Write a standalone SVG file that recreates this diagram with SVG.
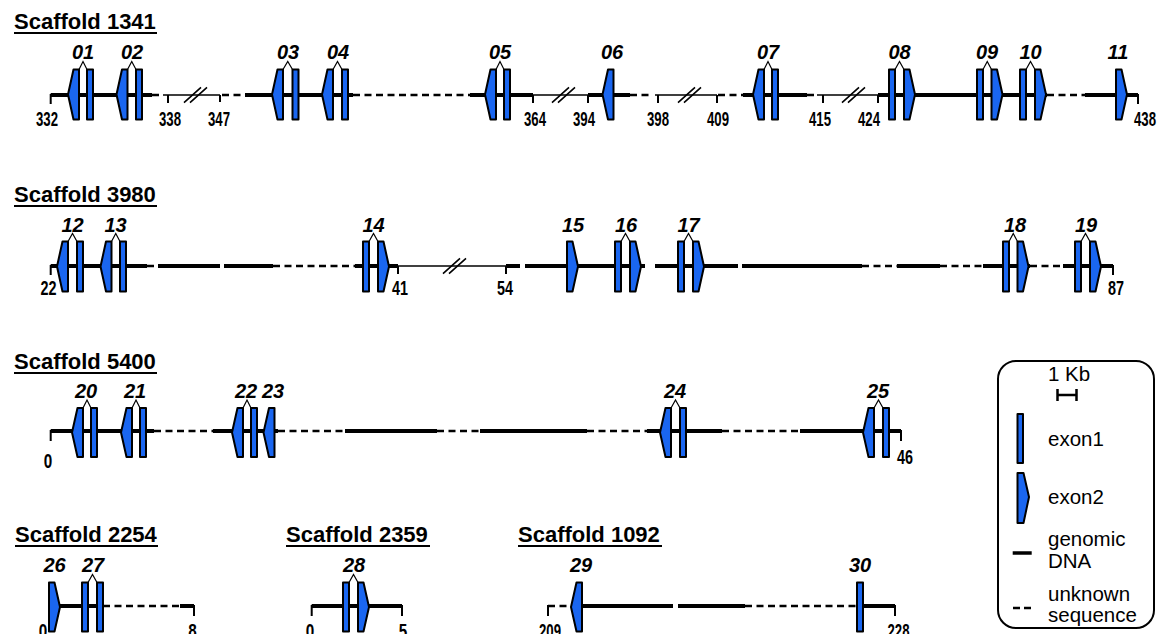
<svg xmlns="http://www.w3.org/2000/svg" width="1167" height="634" viewBox="0 0 1167 634">
<style>
.thick{stroke:#000;stroke-width:3.8;fill:none}
.thin{stroke:#000;stroke-width:1.6;fill:none}
.dash{stroke:#000;stroke-width:2.5;stroke-dasharray:7 4.5;fill:none}
.tick{stroke:#000;stroke-width:2;fill:none}
.brk{stroke:#000;stroke-width:1.6;fill:none}
.ex{fill:#1a66f0;stroke:#000;stroke-width:2;stroke-linejoin:round}
.caret{fill:none;stroke:#000;stroke-width:1.2}
.title{font-family:"Liberation Sans",Arial,sans-serif;font-weight:bold;font-size:22px;fill:#000}
.ul{stroke:#000;stroke-width:2}
.gl{font-family:"Liberation Sans",Arial,sans-serif;font-style:italic;font-weight:bold;font-size:20px;text-anchor:middle;fill:#000}
.num{font-family:"Liberation Sans",Arial,sans-serif;font-weight:bold;font-size:19.5px;text-anchor:middle;fill:#000}
.leg{font-family:"Liberation Sans",Arial,sans-serif;font-size:20.5px;fill:#000}
</style>
<rect width="1167" height="634" fill="#fff"/>

<g id="titles">
<text class="title" x="14" y="29">Scaffold 1341</text><line class="ul" x1="14" y1="33" x2="157" y2="33"/>
<text class="title" x="14" y="202">Scaffold 3980</text><line class="ul" x1="14" y1="206" x2="157" y2="206"/>
<text class="title" x="14" y="369">Scaffold 5400</text><line class="ul" x1="14" y1="373" x2="157" y2="373"/>
<text class="title" x="15" y="542">Scaffold 2254</text><line class="ul" x1="15" y1="546" x2="158" y2="546"/>
<text class="title" x="286" y="542">Scaffold 2359</text><line class="ul" x1="286" y1="546" x2="430" y2="546"/>
<text class="title" x="518" y="542">Scaffold 1092</text><line class="ul" x1="518" y1="546" x2="662" y2="546"/>
</g>

<g id="connectors">
<!-- Row 1 -->
<path class="thick" d="M50.7 95H152M245 95H353M470 95H533M588 95H630M743 95H807M878 95H1047M1085 95H1138"/>
<path class="dash" d="M152 95H160M222 95H245M353 95H470M630 95H652M718 95H743M807 95H815M1047 95H1085"/>
<path class="thin" d="M163 95H220M533 95H588M655 95H717M817 95H878"/>
<path class="brk" d="M184 102.7L201 87.3M190 102.7L207 87.3M552 102.7L569 87.3M558 102.7L575 87.3M678 102.7L695 87.3M684 102.7L701 87.3M842 102.7L859 87.3M848 102.7L865 87.3"/>
<path class="tick" d="M50.7 94V104M168 95V103M220 95V102M533 95V103M588 95V103M658 95V103M717 95V103M823 95V103M878 95V103M1138 94V104"/>
<!-- Row 2 -->
<path class="thick" d="M50.7 266H147M158 266H220M224 266H273M355 266H398M506 266H520M525 266H645M655 266H738M742 266H862M897 266H940M983 266H1030M1063 266H1113"/>
<path class="dash" d="M147 266H158M273 266H355M862 266H897M940 266H983M1030 266H1063"/>
<path class="thin" d="M398 266H506"/>
<path class="brk" d="M443 273.7L460 258.3M449 273.7L466 258.3"/>
<path class="tick" d="M50.7 265V275M398 266V274M506 266V274M1113 265V275"/>
<!-- Row 3 -->
<path class="thick" d="M50.7 431H154M213 431H278M345 431H437M480 431H587M647 431H722M800 431H901"/>
<path class="dash" d="M154 431H213M278 431H345M437 431H480M587 431H647M722 431H800"/>
<path class="tick" d="M50.7 430V441M901 430V441"/>
<!-- Row 4 -->
<path class="thick" d="M60 606H103M180 606H194M311.7 606H402M582 606H673M678 606H745M863 606H895"/>
<path class="dash" d="M103 606H180M548 606H571M745 606H857"/>
<path class="tick" d="M194 605V616M311.7 605V616M402 605V616M548 605V616M895 605V616"/>
</g>

<g id="positions">
<text class="num" x="47" y="126" textLength="22" lengthAdjust="spacingAndGlyphs">332</text>
<text class="num" x="170" y="126" textLength="22" lengthAdjust="spacingAndGlyphs">338</text>
<text class="num" x="219" y="126" textLength="22" lengthAdjust="spacingAndGlyphs">347</text>
<text class="num" x="535" y="126" textLength="22" lengthAdjust="spacingAndGlyphs">364</text>
<text class="num" x="584" y="126" textLength="22" lengthAdjust="spacingAndGlyphs">394</text>
<text class="num" x="658" y="126" textLength="22" lengthAdjust="spacingAndGlyphs">398</text>
<text class="num" x="718" y="126" textLength="22" lengthAdjust="spacingAndGlyphs">409</text>
<text class="num" x="820" y="126" textLength="22" lengthAdjust="spacingAndGlyphs">415</text>
<text class="num" x="869" y="126" textLength="22" lengthAdjust="spacingAndGlyphs">424</text>
<text class="num" x="1145" y="126" textLength="22" lengthAdjust="spacingAndGlyphs">438</text>
<text class="num" x="48.5" y="295" textLength="16" lengthAdjust="spacingAndGlyphs">22</text>
<text class="num" x="400" y="295" textLength="16" lengthAdjust="spacingAndGlyphs">41</text>
<text class="num" x="505" y="295" textLength="16" lengthAdjust="spacingAndGlyphs">54</text>
<text class="num" x="1116" y="295" textLength="16" lengthAdjust="spacingAndGlyphs">87</text>
<text class="num" x="48" y="468" textLength="8.5" lengthAdjust="spacingAndGlyphs">0</text>
<text class="num" x="905" y="464" textLength="16" lengthAdjust="spacingAndGlyphs">46</text>
<text class="num" x="43" y="638" textLength="8.5" lengthAdjust="spacingAndGlyphs">0</text>
<text class="num" x="192.5" y="638" textLength="8.5" lengthAdjust="spacingAndGlyphs">8</text>
<text class="num" x="310" y="638" textLength="8.5" lengthAdjust="spacingAndGlyphs">0</text>
<text class="num" x="403" y="638" textLength="8.5" lengthAdjust="spacingAndGlyphs">5</text>
<text class="num" x="550" y="638" textLength="22" lengthAdjust="spacingAndGlyphs">209</text>
<text class="num" x="898.5" y="638" textLength="22" lengthAdjust="spacingAndGlyphs">228</text>
</g>

<g id="gene01"><polygon class="ex" points="79,69.5 73.5,69.5 68,94.5 73.5,119.5 79,119.5"/><rect class="ex" x="87" y="69.5" width="6" height="50"/><polyline class="caret" points="79,69.5 83,61.5 87,69.5"/><text class="gl" x="83" y="58.5">01</text></g>
<g id="gene02"><polygon class="ex" points="127.5,69.5 122,69.5 116.5,94.5 122,119.5 127.5,119.5"/><rect class="ex" x="136" y="69.5" width="6" height="50"/><polyline class="caret" points="127.5,69.5 131.75,61.5 136,69.5"/><text class="gl" x="132" y="58.5">02</text></g>
<g id="gene03"><polygon class="ex" points="283,69.5 277.5,69.5 272,94.5 277.5,119.5 283,119.5"/><rect class="ex" x="292.5" y="69.5" width="6" height="50"/><polyline class="caret" points="283,69.5 287.75,61.5 292.5,69.5"/><text class="gl" x="288" y="58.5">03</text></g>
<g id="gene04"><polygon class="ex" points="333,69.5 327.5,69.5 322,94.5 327.5,119.5 333,119.5"/><rect class="ex" x="342" y="69.5" width="6" height="50"/><polyline class="caret" points="333,69.5 337.5,61.5 342,69.5"/><text class="gl" x="338" y="58.5">04</text></g>
<g id="gene05"><polygon class="ex" points="496,69.5 490.5,69.5 485,94.5 490.5,119.5 496,119.5"/><rect class="ex" x="504" y="69.5" width="6" height="50"/><polyline class="caret" points="496,69.5 500,61.5 504,69.5"/><text class="gl" x="500" y="58.5">05</text></g>
<g id="gene06"><polygon class="ex" points="613.5,69.5 608,69.5 602.5,94.5 608,119.5 613.5,119.5"/><text class="gl" x="612" y="58.5">06</text></g>
<g id="gene07"><polygon class="ex" points="764,69.5 758.5,69.5 753,94.5 758.5,119.5 764,119.5"/><rect class="ex" x="772" y="69.5" width="6" height="50"/><polyline class="caret" points="764,69.5 768,61.5 772,69.5"/><text class="gl" x="768" y="58.5">07</text></g>
<g id="gene08"><rect class="ex" x="889" y="69.5" width="6" height="50"/><polygon class="ex" points="904,69.5 909.5,69.5 915,94.5 909.5,119.5 904,119.5"/><polyline class="caret" points="895,69.5 899.5,61.5 904,69.5"/><text class="gl" x="899.5" y="58.5">08</text></g>
<g id="gene09"><rect class="ex" x="977" y="69.5" width="6" height="50"/><polygon class="ex" points="991.5,69.5 997,69.5 1002.5,94.5 997,119.5 991.5,119.5"/><polyline class="caret" points="983,69.5 987.25,61.5 991.5,69.5"/><text class="gl" x="987" y="58.5">09</text></g>
<g id="gene10"><rect class="ex" x="1020" y="69.5" width="6" height="50"/><polygon class="ex" points="1035,69.5 1040.5,69.5 1046,94.5 1040.5,119.5 1035,119.5"/><polyline class="caret" points="1026,69.5 1030.5,61.5 1035,69.5"/><text class="gl" x="1030.5" y="58.5">10</text></g>
<g id="gene11"><polygon class="ex" points="1116,69.5 1121.5,69.5 1127,94.5 1121.5,119.5 1116,119.5"/><text class="gl" x="1118" y="58.5">11</text></g>

<g id="gene12"><polygon class="ex" points="68,241.5 62.5,241.5 57,266.5 62.5,291.5 68,291.5"/><rect class="ex" x="77" y="241.5" width="6" height="50"/><polyline class="caret" points="68,241.5 72.5,233.5 77,241.5"/><text class="gl" x="72.5" y="231.5">12</text></g>
<g id="gene13"><polygon class="ex" points="111.5,241.5 106,241.5 100.5,266.5 106,291.5 111.5,291.5"/><rect class="ex" x="120" y="241.5" width="6" height="50"/><polyline class="caret" points="111.5,241.5 115.75,233.5 120,241.5"/><text class="gl" x="115.5" y="231.5">13</text></g>
<g id="gene14"><rect class="ex" x="363" y="241.5" width="6" height="50"/><polygon class="ex" points="378,241.5 383.5,241.5 389,266.5 383.5,291.5 378,291.5"/><polyline class="caret" points="369,241.5 373.5,233.5 378,241.5"/><text class="gl" x="373.5" y="231.5">14</text></g>
<g id="gene15"><polygon class="ex" points="567,241.5 572.5,241.5 578,266.5 572.5,291.5 567,291.5"/><text class="gl" x="573" y="231.5">15</text></g>
<g id="gene16"><rect class="ex" x="615" y="241.5" width="6" height="50"/><polygon class="ex" points="630,241.5 635.5,241.5 641,266.5 635.5,291.5 630,291.5"/><polyline class="caret" points="621,241.5 625.5,233.5 630,241.5"/><text class="gl" x="626" y="231.5">16</text></g>
<g id="gene17"><rect class="ex" x="678" y="241.5" width="6" height="50"/><polygon class="ex" points="693,241.5 698.5,241.5 704,266.5 698.5,291.5 693,291.5"/><polyline class="caret" points="684,241.5 688.5,233.5 693,241.5"/><text class="gl" x="688.5" y="231.5">17</text></g>
<g id="gene18"><rect class="ex" x="1003" y="241.5" width="6" height="50"/><polygon class="ex" points="1017.5,241.5 1023,241.5 1028.5,266.5 1023,291.5 1017.5,291.5"/><polyline class="caret" points="1009,241.5 1013.25,233.5 1017.5,241.5"/><text class="gl" x="1015" y="231.5">18</text></g>
<g id="gene19"><rect class="ex" x="1075" y="241.5" width="6" height="50"/><polygon class="ex" points="1090,241.5 1095.5,241.5 1101,266.5 1095.5,291.5 1090,291.5"/><polyline class="caret" points="1081,241.5 1085.5,233.5 1090,241.5"/><text class="gl" x="1086" y="231.5">19</text></g>

<g id="gene20"><polygon class="ex" points="83,408 77.5,408 72,432.5 77.5,457 83,457"/><rect class="ex" x="91" y="408" width="6" height="49"/><polyline class="caret" points="83,408 87,400 91,408"/><text class="gl" x="86" y="398">20</text></g>
<g id="gene21"><polygon class="ex" points="132,408 126.5,408 121,432.5 126.5,457 132,457"/><rect class="ex" x="140" y="408" width="6" height="49"/><polyline class="caret" points="132,408 136,400 140,408"/><text class="gl" x="135" y="398">21</text></g>
<g id="gene22"><polygon class="ex" points="243,408 237.5,408 232,432.5 237.5,457 243,457"/><rect class="ex" x="251" y="408" width="6" height="49"/><polyline class="caret" points="243,408 247,400 251,408"/><text class="gl" x="246" y="398">22</text></g>
<g id="gene23"><polygon class="ex" points="274.5,408 269,408 263.5,432.5 269,457 274.5,457"/><text class="gl" x="273" y="398">23</text></g>
<g id="gene24"><polygon class="ex" points="671,408 665.5,408 660,432.5 665.5,457 671,457"/><rect class="ex" x="680" y="408" width="6" height="49"/><polyline class="caret" points="671,408 675.5,400 680,408"/><text class="gl" x="675" y="398">24</text></g>
<g id="gene25"><polygon class="ex" points="874,408 868.5,408 863,432.5 868.5,457 874,457"/><rect class="ex" x="883" y="408" width="6" height="49"/><polyline class="caret" points="874,408 878.5,400 883,408"/><text class="gl" x="878" y="398">25</text></g>

<g id="gene26"><polygon class="ex" points="49,582.5 54.5,582.5 60,607 54.5,631.5 49,631.5"/><text class="gl" x="54.5" y="572">26</text></g>
<g id="gene27"><rect class="ex" x="82" y="582.5" width="6" height="49"/><rect class="ex" x="97" y="582.5" width="6" height="49"/><polyline class="caret" points="88,582.5 92.5,574.5 97,582.5"/><text class="gl" x="93" y="572">27</text></g>
<g id="gene28"><rect class="ex" x="343" y="582.5" width="6" height="49"/><polygon class="ex" points="358,582.5 363.5,582.5 369,607 363.5,631.5 358,631.5"/><polyline class="caret" points="349,582.5 353.5,574.5 358,582.5"/><text class="gl" x="354" y="572">28</text></g>
<g id="gene29"><polygon class="ex" points="582,582.5 576.5,582.5 571,607 576.5,631.5 582,631.5"/><text class="gl" x="581" y="572">29</text></g>
<g id="gene30"><rect class="ex" x="857" y="582.5" width="6" height="49"/><text class="gl" x="860" y="572">30</text></g>

<g id="legend">
<rect x="998" y="361" width="156" height="267" rx="18" fill="none" stroke="#000" stroke-width="2"/>
<text class="leg" x="1048" y="381">1 Kb</text>
<path d="M1057.5 389V401M1076.5 389V401M1057.5 395H1076.5" stroke="#000" stroke-width="2.5" fill="none"/>
<rect class="ex" x="1017.5" y="414" width="5.5" height="49"/>
<text class="leg" x="1048" y="446">exon1</text>
<polygon class="ex" points="1017.5,473 1023.5,473 1029,497 1023.5,523 1017.5,523"/>
<text class="leg" x="1048" y="504">exon2</text>
<line x1="1012.7" y1="553" x2="1031.7" y2="553" stroke="#000" stroke-width="3.5"/>
<text class="leg" x="1048" y="546">genomic</text>
<text class="leg" x="1048" y="568">DNA</text>
<path d="M1013 608H1020M1024 608H1031" stroke="#000" stroke-width="2.5"/>
<text class="leg" x="1048" y="601">unknown</text>
<text class="leg" x="1048" y="622">sequence</text>
</g>
</svg>
